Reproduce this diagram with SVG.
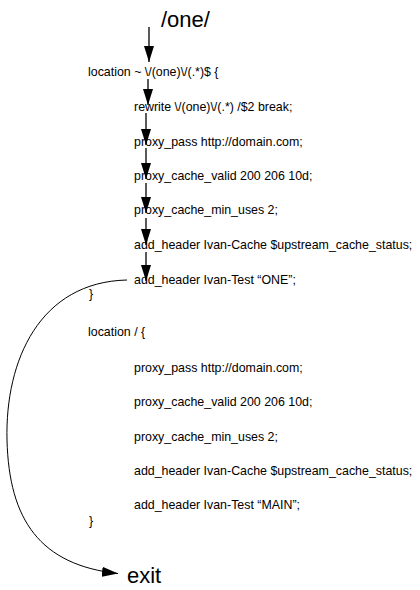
<svg xmlns="http://www.w3.org/2000/svg" width="420" height="590" viewBox="0 0 420 590">
<style>
text { font-family: "Liberation Sans", Arial, sans-serif; fill: #000; }
.code { font-size: 12.4px; }
.big { font-size: 22px; }
.edge { fill: none; stroke: #000; stroke-width: 1.3; }
</style>
<defs>
<marker id="ah" viewBox="0 0 16 10" refX="16" refY="5" markerWidth="16" markerHeight="10" markerUnits="userSpaceOnUse" orient="auto">
<path d="M0,0 L16,5 L0,10 Z" fill="#000"/>
</marker>
</defs>
<rect width="420" height="590" fill="#fff"/>
<g id="connectors">
<path class="edge" d="M149,27 L149,62" marker-end="url(#ah)"/>
<path class="edge" d="M148,79 L148,105" marker-end="url(#ah)"/>
<path class="edge" d="M146,113 L146,145" marker-end="url(#ah)"/>
<path class="edge" d="M146,148 L146,179" marker-end="url(#ah)"/>
<path class="edge" d="M146,183 L146,213" marker-end="url(#ah)"/>
<path class="edge" d="M146,218 L146,245" marker-end="url(#ah)"/>
<path class="edge" d="M146,252 L146,281" marker-end="url(#ah)"/>
<path class="edge" style="stroke-width:1" d="M127,280 C40,282 5,360 7,440 C9,520 40,565 118,573.5" marker-end="url(#ah)"/>
</g>
<g id="start"><text class="big" x="161" y="27">/one/</text></g>
<g id="loc1"><text class="code" x="88" y="76">location ~ \/(one)\/(.*)$ {</text></g>
<g id="rewrite"><text class="code" x="134" y="110.5">rewrite \/(one)\/(.*) /$2 break;</text></g>
<g id="pp1"><text class="code" x="134" y="145.5">proxy_pass http://domain.com;</text></g>
<g id="valid1"><text class="code" x="134" y="179.5">proxy_cache_valid 200 206 10d;</text></g>
<g id="min1"><text class="code" x="134" y="213.5">proxy_cache_min_uses 2;</text></g>
<g id="cache1"><text class="code" x="134" y="248.5">add_header Ivan-Cache $upstream_cache_status;</text></g>
<g id="test1"><text class="code" x="134" y="283.5">add_header Ivan-Test “ONE”;</text></g>
<g id="close1"><text class="code" x="89" y="298">}</text></g>
<g id="loc2"><text class="code" x="88" y="336">location / {</text></g>
<g id="pp2"><text class="code" x="134" y="371.5">proxy_pass http://domain.com;</text></g>
<g id="valid2"><text class="code" x="134" y="405.5">proxy_cache_valid 200 206 10d;</text></g>
<g id="min2"><text class="code" x="134" y="440.5">proxy_cache_min_uses 2;</text></g>
<g id="cache2"><text class="code" x="134" y="474.5">add_header Ivan-Cache $upstream_cache_status;</text></g>
<g id="test2"><text class="code" x="134" y="508.5">add_header Ivan-Test “MAIN”;</text></g>
<g id="close2"><text class="code" x="89" y="525">}</text></g>
<g id="exit"><text class="big" x="127" y="583">exit</text></g>
</svg>
